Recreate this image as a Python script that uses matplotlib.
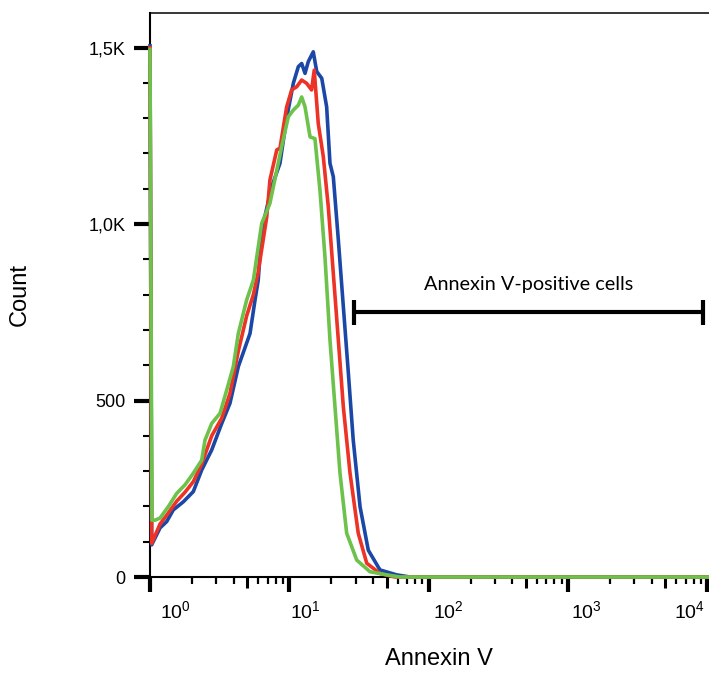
import matplotlib
matplotlib.use("Agg")
import matplotlib.pyplot as plt
import matplotlib.transforms as mtransforms
from matplotlib.ticker import MultipleLocator, LogLocator, NullFormatter, FixedLocator

plt.rcParams['font.family'] = ['Liberation Sans', 'DejaVu Sans']
plt.rcParams['mathtext.default'] = 'regular'

# histogram traces (Annexin V intensity, count)
blue_x = [1.0, 1.028, 1.180, 1.318, 1.469, 1.734, 2.046, 2.350, 2.773, 3.273, 3.750,
          4.305, 5.224, 5.675, 5.984, 6.339, 7.482, 8.570, 9.572, 10.69, 11.61, 12.27,
          12.97, 13.68, 14.86, 15.74, 17.10, 18.54, 19.59, 20.70, 22.49, 24.43, 26.55,
          28.77, 32.21, 36.90, 44.77, 59.02, 73.62, 10300]
blue_y = [1505, 91, 139, 157, 190, 213, 242, 303, 360, 435, 492,
          596, 690, 785, 841, 983, 1106, 1172, 1300, 1399, 1446, 1455,
          1427, 1460, 1488, 1432, 1413, 1332, 1172, 1134, 955, 766, 577,
          388, 199, 76, 20, 6, 0, 0]

red_x = [1.0, 1.028, 1.180, 1.346, 1.556, 1.782, 2.046, 2.350, 2.773, 3.273, 3.750,
         4.305, 4.943, 5.521, 5.957, 6.887, 7.261, 8.128, 8.570, 9.572, 10.40, 11.30,
         12.27, 13.30, 14.45, 15.10, 16.14, 17.54, 19.05, 20.70, 22.49, 24.43, 27.29,
         31.26, 35.97, 44.77, 57.41, 10300]
red_y = [1500, 95, 150, 180, 215, 240, 270, 320, 400, 450, 520,
         640, 740, 800, 860, 1020, 1125, 1210, 1215, 1332, 1380, 1389,
         1408, 1399, 1380, 1436, 1285, 1191, 1049, 860, 671, 482, 294,
         124, 39, 10, 0, 0]

green_x = [1.0, 1.033, 1.086, 1.180, 1.352, 1.556, 1.782, 2.046, 2.350, 2.483, 2.773,
           3.184, 3.556, 3.963, 4.305, 4.943, 5.521, 6.339, 7.261, 8.810, 9.840, 10.69,
           11.61, 12.27, 12.97, 14.09, 15.28, 16.60, 18.03, 19.59, 21.28, 23.12, 25.82,
           30.48, 37.93, 50.00, 62.37, 10300]
green_y = [1495, 161, 161, 167, 199, 237, 261, 294, 331, 388, 435,
           464, 530, 596, 690, 785, 841, 1002, 1059, 1219, 1304, 1323,
           1337, 1360, 1332, 1247, 1242, 1096, 907, 671, 482, 294, 124,
           48, 15, 6, 0, 0]

gate_lo, gate_hi, gate_y = 29.1, 9330, 750
gate_label = "Annexin V-positive cells"

ytick_vals = [0, 500, 1000, 1500]
ytick_text = ["0", "500", "1,0K", "1,5K"]
xtick_vals = [1, 10, 100, 1000, 10000]
xtick_text = ["$10^{0}$", "$10^{1}$", "$10^{2}$", "$10^{3}$", "$10^{4}$"]
xtick_shift = [10, 1, 4, 3, -33]  # label nudges in pixels

fig = plt.figure(figsize=(7.09, 6.82), dpi=100)
ax = fig.add_axes([150 / 709, 1 - 577 / 682, 1 - 150 / 709, (577 - 13) / 682])

ax.plot(blue_x, blue_y, color="#1b48a6", lw=2.6, clip_on=False, zorder=3)
ax.plot(red_x, red_y, color="#ec3326", lw=2.6, clip_on=False, zorder=4)
ax.plot(green_x, green_y, color="#6cc24a", lw=2.6, clip_on=False, zorder=5)

# gate bar
ax.hlines(gate_y, gate_lo, gate_hi, color="black", lw=3)
ax.vlines([gate_lo, gate_hi], gate_y - 36, gate_y + 36, color="black", lw=3)
ax.text((gate_lo * gate_hi) ** 0.5, gate_y + 54, gate_label, ha="center", va="bottom",
        fontsize=14.3, family=["Lato", "DejaVu Sans"])

ax.set_xscale("log")
ax.set_xlim(1.0, 10 ** ((709 - 150) / 139.3))
ax.set_ylim(0, 1598)

ax.set_yticks(ytick_vals)
ax.set_yticklabels(ytick_text)
ax.yaxis.set_minor_locator(MultipleLocator(100))
ax.tick_params(axis="y", which="major", length=11.5, width=3, labelsize=13, pad=6)
ax.tick_params(axis="y", which="minor", length=5, width=1.5)

ax.set_xticks(xtick_vals)
ax.set_xticklabels(xtick_text, ha="left")
ax.xaxis.set_minor_locator(LogLocator(base=10, subs=[2, 3, 4, 6, 7, 8, 9], numticks=20))
ax.xaxis.set_minor_formatter(NullFormatter())
ax.tick_params(axis="x", which="major", length=11, width=3, labelsize=14, pad=6)
ax.tick_params(axis="x", which="minor", length=5, width=1.6)
for lab, dx in zip(ax.get_xticklabels(), xtick_shift):
    lab.set_transform(lab.get_transform() + mtransforms.ScaledTranslation(dx / 100, 0, fig.dpi_scale_trans))

# the 5x ticks are a bit longer
sec = ax.secondary_xaxis("bottom")
sec.xaxis.set_major_locator(FixedLocator([5, 50, 500, 5000]))
sec.xaxis.set_minor_locator(FixedLocator([]))
sec.tick_params(axis="x", which="major", length=8, width=2.2, labelbottom=False)
sec.spines["bottom"].set_visible(False)

ax.spines["right"].set_visible(False)
ax.spines["left"].set_linewidth(1.5)
ax.spines["bottom"].set_linewidth(1.5)
ax.spines["top"].set_linewidth(1.1)

ax.set_xlabel("Annexin V", fontsize=17, labelpad=18)
ax.xaxis.label.set_x(0.516)
ax.set_ylabel("Count", fontsize=17, labelpad=42)

fig.savefig("out.png", dpi=100)
